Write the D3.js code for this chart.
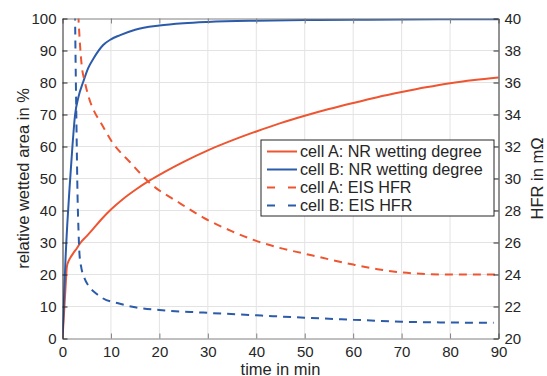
<!DOCTYPE html>
<html>
<head>
<meta charset="utf-8">
<script src="https://cdn.jsdelivr.net/npm/d3@7"></script>
<style>
  html, body { margin: 0; padding: 0; background: #fff; }
  text { font-family: "Liberation Sans", Arial, Helvetica, sans-serif; fill: #262626; }
</style>
</head>
<body>
<figure id="chart" style="margin:0"></figure>
<script>
// cell A, NR wetting degree (left axis, %)
const timeA_NR = [0, 0.4, 0.7, 0.9, 1.2, 1.6, 2.2, 3, 3.6, 5, 6.4, 8, 10, 12.5, 15, 18, 21, 25, 30, 35, 40, 45, 50, 55, 60, 65, 70, 75, 80, 85, 90];
const wetA_NR  = [0, 10, 18, 22.4, 24, 25.2, 26.6, 28.3, 29.7, 32, 34.4, 37.2, 40.3, 43.6, 46.4, 49.4, 52, 55.2, 58.8, 61.9, 64.7, 67.3, 69.6, 71.7, 73.6, 75.4, 77, 78.5, 79.8, 80.8, 81.6];

// cell B, NR wetting degree (left axis, %)
const timeB_NR = [0, 0.3, 0.6, 1, 1.5, 2, 2.6, 3.3, 4.3, 5.3, 6.4, 8.4, 10, 11.9, 15, 20, 25, 30, 40, 50, 60, 70, 90];
const wetB_NR  = [0, 12, 24, 36, 48, 59, 70, 75.5, 80.3, 84.5, 87.5, 91.7, 93.5, 94.8, 96.5, 97.8, 98.5, 98.9, 99.3, 99.5, 99.6, 99.7, 99.8];

// cell A, EIS HFR (right axis, mOhm)
const timeA_HFR = [3, 3.3, 3.95, 4.6, 5.5, 6.7, 7.7, 10.2, 14, 18.1, 24, 29.4, 35, 40, 45, 50, 55, 60, 65, 70, 75, 80, 90];
const hfrA      = [42, 40, 37.1, 36.05, 35, 34.1, 33.6, 32.3, 31, 29.7, 28.5, 27.5, 26.7, 26.1, 25.65, 25.3, 24.95, 24.62, 24.33, 24.13, 24.03, 24.0, 24.0];

// cell B, EIS HFR (right axis, mOhm)
const timeB_HFR = [2.5, 2.6, 2.9, 3.1, 3.3, 3.5, 3.9, 4.5, 5.6, 7, 8.4, 11.5, 15, 20, 29, 40, 50, 60, 70, 80, 89];
const hfrB      = [43, 40, 33, 29, 26.8, 25.3, 24.4, 23.8, 23.2, 22.8, 22.5, 22.2, 21.95, 21.78, 21.62, 21.45, 21.3, 21.17, 21.05, 21.0, 20.98];

const xTicks = d3.range(0, 91, 10);
const yLeftTicks = d3.range(0, 101, 10);
const yRightTicks = d3.range(20, 41, 2);

const legendLabels = ["cell A: NR wetting degree", "cell B: NR wetting degree", "cell A: EIS HFR", "cell B: EIS HFR"];

const red = "#ee5531";
const blue = "#2b5ba9";

const width = 547, height = 376;
const mLeft = 62.5, mRight = 498.5, mTop = 18.5, mBottom = 338.5;

const svg = d3.select("#chart").append("svg")
  .attr("width", width)
  .attr("height", height);

const x = d3.scaleLinear().domain([0, 90]).range([mLeft, mRight]);
const yL = d3.scaleLinear().domain([0, 100]).range([mBottom, mTop]);
const yR = d3.scaleLinear().domain([20, 40]).range([mBottom, mTop]);

// grid
const grid = svg.append("g").attr("stroke", "#e3e3e3").attr("stroke-width", 1);
grid.selectAll(".gx").data(xTicks.slice(1, -1)).enter().append("line")
  .attr("x1", d => x(d)).attr("x2", d => x(d)).attr("y1", mTop).attr("y2", mBottom);
grid.selectAll(".gy").data(yLeftTicks.slice(1, -1)).enter().append("line")
  .attr("y1", d => yL(d)).attr("y2", d => yL(d)).attr("x1", mLeft).attr("x2", mRight);

// clip for data lines
svg.append("clipPath").attr("id", "plotclip")
  .append("rect").attr("x", mLeft).attr("y", mTop).attr("width", mRight - mLeft).attr("height", mBottom - mTop);

const plot = svg.append("g").attr("clip-path", "url(#plotclip)");

function drawLine(xs, ys, yScale, color, dashed) {
  const pts = xs.map((t, i) => [t, ys[i]]);
  const line = d3.line()
    .x(d => x(d[0]))
    .y(d => yScale(d[1]))
    .curve(d3.curveMonotoneX);
  plot.append("path")
    .datum(pts)
    .attr("d", line)
    .attr("fill", "none")
    .attr("stroke", color)
    .attr("stroke-width", 2)
    .attr("stroke-dasharray", dashed ? "8,6" : null);
}

drawLine(timeA_NR, wetA_NR, yL, red, false);
drawLine(timeB_NR, wetB_NR, yL, blue, false);
drawLine(timeA_HFR, hfrA, yR, red, true);
drawLine(timeB_HFR, hfrB, yR, blue, true);

// axes (ticks inward, like matlab)
const tickLen = 5;
const fontTick = "15px";

const xAxis = svg.append("g").attr("transform", "translate(0," + mBottom + ")")
  .call(d3.axisBottom(x).tickValues(xTicks).tickSizeInner(-tickLen).tickSizeOuter(0).tickPadding(8));
const xTop = svg.append("g").attr("transform", "translate(0," + mTop + ")")
  .call(d3.axisTop(x).tickValues(xTicks).tickSizeInner(-tickLen).tickSizeOuter(0).tickFormat(""));
const yAxisL = svg.append("g").attr("transform", "translate(" + mLeft + ",0)")
  .call(d3.axisLeft(yL).tickValues(yLeftTicks).tickSizeInner(-tickLen).tickSizeOuter(0).tickPadding(6));
const yAxisR = svg.append("g").attr("transform", "translate(" + mRight + ",0)")
  .call(d3.axisRight(yR).tickValues(yRightTicks).tickSizeInner(-tickLen).tickSizeOuter(0).tickPadding(6));

// tickPadding counts from the inward tick end, so shift labels back out
yAxisL.selectAll("text").attr("x", -6);
yAxisR.selectAll("text").attr("x", 6);
xAxis.selectAll("text").attr("y", 8);

[xAxis, xTop, yAxisL, yAxisR].forEach(g => {
  g.selectAll("text").style("font-size", fontTick).style("font-family", null).attr("fill", "#262626");
  g.selectAll(".tick line").attr("stroke", "#262626");
  g.select(".domain").attr("stroke", "#262626");
});
xAxis.select(".domain").attr("stroke", "#808080");
xTop.select(".domain").attr("stroke", "#808080");
xAxis.selectAll(".tick line").attr("stroke", "#808080");
xTop.selectAll(".tick line").attr("stroke", "#808080");

// axis labels
svg.append("text")
  .attr("x", (mLeft + mRight) / 2).attr("y", 374.5)
  .attr("text-anchor", "middle")
  .style("font-size", "16.5px")
  .text("time in min");

svg.append("text")
  .attr("transform", "translate(29," + ((mTop + mBottom) / 2) + ") rotate(-90)")
  .attr("text-anchor", "middle")
  .style("font-size", "16.5px")
  .text("relative wetted area in %");

svg.append("text")
  .attr("transform", "translate(543," + ((mTop + mBottom) / 2) + ") rotate(-90)")
  .attr("text-anchor", "middle")
  .style("font-size", "16.5px")
  .text("HFR in m\u03A9");

// legend
const lg = svg.append("g").attr("transform", "translate(261,140)");
lg.append("rect")
  .attr("width", 233).attr("height", 76)
  .attr("fill", "#fff").attr("stroke", "#262626").attr("stroke-width", 1);

const legendColors = [red, blue, red, blue];
const legendDash = [false, false, true, true];
const rows = lg.selectAll(".row").data(legendLabels).enter().append("g")
  .attr("transform", (d, i) => "translate(0," + (11.5 + i * 18) + ")");
rows.append("line")
  .attr("x1", 6).attr("x2", 36)
  .attr("stroke", (d, i) => legendColors[i])
  .attr("stroke-width", 2)
  .attr("stroke-dasharray", (d, i) => legendDash[i] ? "8,13" : null);
rows.append("text")
  .attr("x", 39).attr("dy", "0.35em")
  .style("font-size", "16.2px")
  .text(d => d);
</script>
</body>
</html>
